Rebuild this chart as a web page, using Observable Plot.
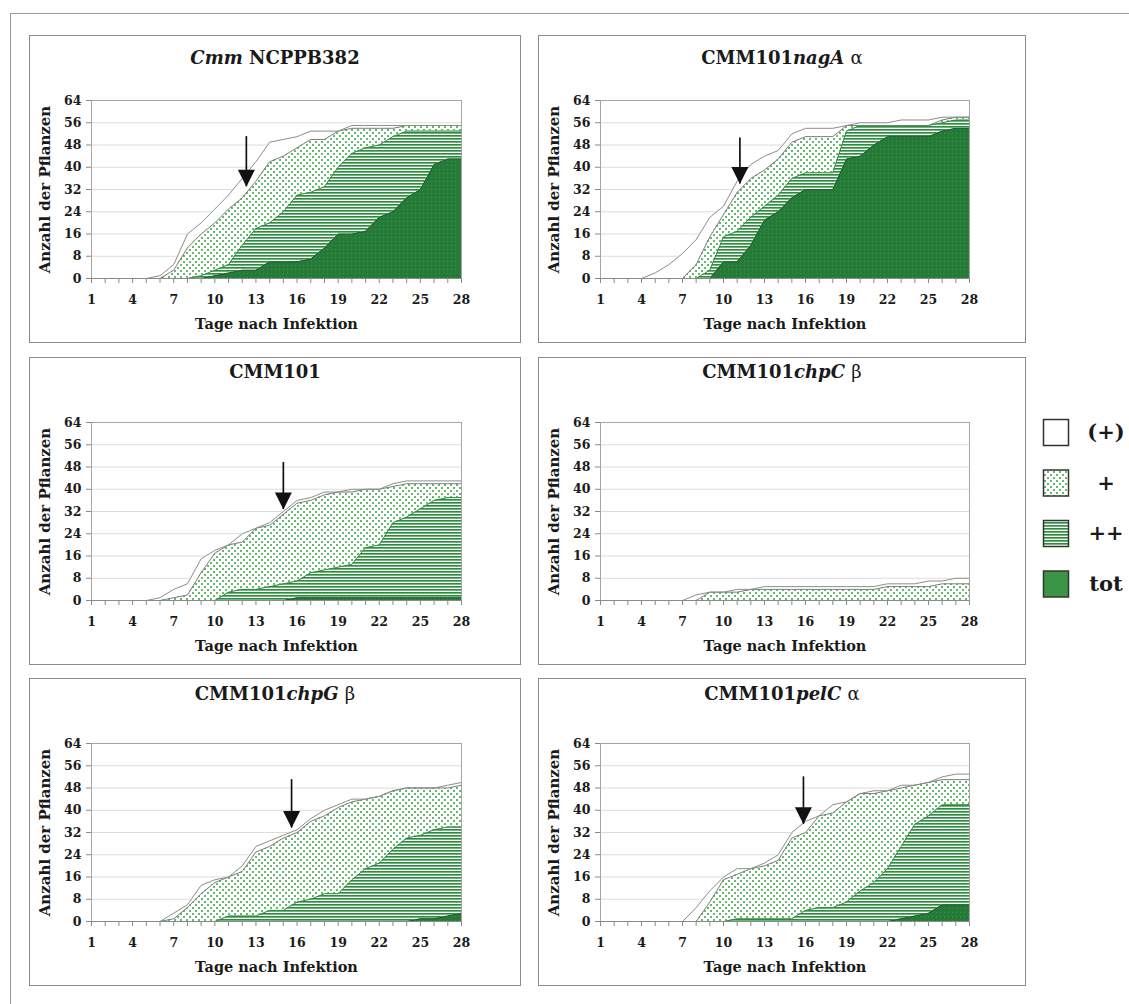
<!DOCTYPE html>
<html><head><meta charset="utf-8">
<script src="https://cdn.jsdelivr.net/npm/d3@7"></script>
<script src="https://cdn.jsdelivr.net/npm/@observablehq/plot@0.6"></script>
<style>
body{margin:0;background:#fff;width:1129px;height:1004px;overflow:hidden;position:relative;font-family:"DejaVu Serif",serif;color:#1a1a1a}
#frame{position:absolute;left:10px;top:13px;width:1300px;height:1200px;border-left:1px solid #9a9a9a;border-top:1px solid #9a9a9a}
.panel{position:absolute;border:1px solid #8a8a8a;background:#fff;box-sizing:border-box}
.panel svg{position:absolute;left:0;top:0}
.ttl{position:absolute;left:0;right:0;text-align:center;font-weight:bold;font-size:18px;line-height:22px;z-index:2}
.ttl .g{font-weight:normal}
#legend{position:absolute;left:1035px;top:405px}
</style></head>
<body>
<svg width="0" height="0" style="position:absolute">
 <defs>
  <pattern id="pDots" width="6" height="6" patternUnits="userSpaceOnUse">
   <rect width="6" height="6" fill="#fff"/>
   <rect x="0" y="0" width="2" height="2" fill="#63ba6c"/>
   <rect x="3" y="3" width="2" height="2" fill="#63ba6c"/>
  </pattern>
  <pattern id="pStripes" width="8" height="3" patternUnits="userSpaceOnUse">
   <rect width="8" height="3" fill="#fff"/>
   <rect y="0" width="8" height="1" fill="#2f8c3e"/>
   <rect y="1" width="8" height="1" fill="#6fb47b"/>
  </pattern>
  <pattern id="pTot" width="4" height="4" patternUnits="userSpaceOnUse">
   <rect width="4" height="4" fill="#247a36"/>
   <rect x="1" y="1" width="1" height="1" fill="#3a9149"/>
  </pattern>
 </defs>
</svg>
<div id="frame"></div>
<div id="root"></div>
<svg id="legend" width="94" height="200"></svg>
<script>
// ---------- data ----------
const days = d3.range(1, 29);
const xTickLabels = [1, 4, 7, 10, 13, 16, 19, 22, 25, 28];
const yTicks = [0, 8, 16, 24, 32, 40, 48, 56, 64];
const levels = ["(+)", "+", "++", "tot"];

const titles = [
  "<i>Cmm</i> NCPPB382",
  "CMM101<i>nagA</i> <span class='g'>α</span>",
  "CMM101",
  "CMM101<i>chpC</i> <span class='g'>β</span>",
  "CMM101<i>chpG</i> <span class='g'>β</span>",
  "CMM101<i>pelC</i> <span class='g'>α</span>"
];

// cumulative plant counts per day (1..28): dead (tot), at least "++", at least "+", all symptomatic "(+)"
const ncppb_tot = [0,0,0,0,0,0,0,0,0,1,2,3,3,6,6,6,7,11,16,16,17,22,24,29,32,41,43,43];
const ncppb_pp  = [0,0,0,0,0,0,0,0,1,3,5,12,18,20,24,30,31,33,40,45,47,48,51,53,53,53,53,53];
const ncppb_p   = [0,0,0,0,0,0,3,11,16,20,25,29,35,42,44,47,50,50,53,54,54,54,54,55,55,55,55,55];
const ncppb_all = [0,0,0,0,0,1,5,16,20,25,30,36,42,49,50,51,53,53,53,55,55,55,55,55,55,55,55,55];

const nagA_tot = [0,0,0,0,0,0,0,0,0,6,6,12,21,24,29,32,32,32,43,44,48,51,51,51,51,53,54,54];
const nagA_pp  = [0,0,0,0,0,0,0,0,3,15,17,22,26,30,36,38,38,38,53,55,55,55,55,55,55,56,57,57];
const nagA_p   = [0,0,0,0,0,0,0,5,15,23,31,36,39,43,49,51,51,51,55,55,55,55,55,55,55,57,58,58];
const nagA_all = [0,0,0,0,2,5,9,14,22,26,35,41,44,46,52,54,54,54,55,56,56,56,57,57,57,58,58,58];

const cmm101_tot = [0,0,0,0,0,0,0,0,0,0,0,0,0,0,0,1,1,1,1,1,1,1,1,1,1,1,1,1];
const cmm101_pp  = [0,0,0,0,0,0,0,0,0,0,3,4,4,5,6,7,10,11,12,13,19,20,28,30,33,36,37,37];
const cmm101_p   = [0,0,0,0,0,0,1,2,10,17,20,21,26,27,31,35,36,38,39,39,40,40,41,42,42,42,42,42];
const cmm101_all = [0,0,0,0,0,1,4,6,15,18,20,24,26,28,32,36,37,39,39,40,40,40,42,43,43,43,43,43];

const chpC_tot = [0,0,0,0,0,0,0,0,0,0,0,0,0,0,0,0,0,0,0,0,0,0,0,0,0,0,0,0];
const chpC_pp  = [0,0,0,0,0,0,0,0,0,0,0,0,0,0,0,0,0,0,0,0,0,0,0,0,0,0,0,0];
const chpC_p   = [0,0,0,0,0,0,0,0,3,3,3,4,4,4,4,4,4,4,4,4,4,5,5,5,5,6,6,6];
const chpC_all = [0,0,0,0,0,0,0,2,3,3,4,4,5,5,5,5,5,5,5,5,5,6,6,6,7,7,8,8];

const chpG_tot = [0,0,0,0,0,0,0,0,0,0,0,0,0,0,0,0,0,0,0,0,0,0,0,0,1,1,2,3];
const chpG_pp  = [0,0,0,0,0,0,0,0,0,0,2,2,2,4,4,7,8,10,10,15,19,21,26,30,31,33,34,34];
const chpG_p   = [0,0,0,0,0,0,1,5,10,14,16,18,25,27,30,32,36,38,41,43,44,45,47,48,48,48,48,49];
const chpG_all = [0,0,0,0,0,0,3,6,13,15,16,20,27,29,31,33,37,40,42,44,44,45,47,48,48,48,49,50];

const pelC_tot = [0,0,0,0,0,0,0,0,0,0,0,0,0,0,0,0,0,0,0,0,0,0,1,2,3,6,6,6];
const pelC_pp  = [0,0,0,0,0,0,0,0,0,0,1,1,1,1,1,4,5,5,7,11,14,19,27,35,38,42,42,42];
const pelC_p   = [0,0,0,0,0,0,0,0,7,15,17,19,20,22,30,32,38,39,43,46,46,47,48,49,50,51,51,51];
const pelC_all = [0,0,0,0,0,0,0,5,11,16,19,19,21,24,32,36,38,42,43,46,47,47,49,49,50,52,53,53];

// arrow annotations (day, tip value, top value); null = no arrow
const arrowDays = [12.3, 11.2, 15.0, null, 15.6, 15.85];
const arrowTips = [33, 34, 32.7, null, 33.6, 35];
const arrowTops = [51, 50.5, 49.6, null, 51, 52];

const TOT = [ncppb_tot, nagA_tot, cmm101_tot, chpC_tot, chpG_tot, pelC_tot];
const PP  = [ncppb_pp,  nagA_pp,  cmm101_pp,  chpC_pp,  chpG_pp,  pelC_pp];
const P   = [ncppb_p,   nagA_p,   cmm101_p,   chpC_p,   chpG_p,   pelC_p];
const ALL = [ncppb_all, nagA_all, cmm101_all, chpC_all, chpG_all, pelC_all];

// ---------- drawing ----------
const FONT = "'DejaVu Serif', serif";
const colLeft = [29, 538], colW = [492, 488], rowTop = [35, 357, 678], boxH = 308;
const titleTop = [11, 3, 4];
const arrowHead = {draw(ctx) { ctx.moveTo(-8.5, -17); ctx.lineTo(8.5, -17); ctx.lineTo(0, 0); ctx.closePath(); }};
const root = document.getElementById("root");

for (let pi = 0; pi < 6; ++pi) {
  const col = pi % 2, row = Math.floor(pi / 2);
  const R = days.map((d, i) => ({day: d, tot: TOT[pi][i], pp: PP[pi][i], p: P[pi][i], all: ALL[pi][i]}));
  const A = arrowDays[pi] == null ? [] : [{day: arrowDays[pi], tip: arrowTips[pi], top: arrowTops[pi]}];
  const box = document.createElement("div");
  box.className = "panel";
  Object.assign(box.style, {left: colLeft[col] + "px", top: rowTop[row] + "px", width: colW[col] + "px", height: boxH + "px"});
  const t = document.createElement("div");
  t.className = "ttl";
  t.style.top = titleTop[row] + "px";
  t.innerHTML = titles[pi];
  box.appendChild(t);
  const chart = Plot.plot({
    width: colW[col] - 2, height: boxH - 2,
    marginLeft: 61, marginRight: col ? 56 : 59, marginTop: 64, marginBottom: 64,
    style: {fontFamily: FONT, fontWeight: "bold", fontSize: "12.5px", color: "#1a1a1a", background: "transparent", overflow: "visible"},
    x: {domain: [1, 28], label: null},
    y: {domain: [0, 64], label: null},
    marks: [
      Plot.gridY(yTicks, {stroke: "#dcdcdc", strokeOpacity: 1}),
      Plot.areaY(R, {x: "day", y1: 0, y2: "tot", fill: "url(#pTot)"}),
      Plot.areaY(R, {x: "day", y1: "tot", y2: "pp", fill: "url(#pStripes)"}),
      Plot.areaY(R, {x: "day", y1: "pp", y2: "p", fill: "url(#pDots)"}),
      Plot.areaY(R, {x: "day", y1: "p", y2: "all", fill: "#fff"}),
      Plot.lineY(R, {x: "day", y: "tot", stroke: "#1d5f2b", strokeWidth: 1}),
      Plot.lineY(R, {x: "day", y: "pp", stroke: "#2f8c3e", strokeWidth: 1}),
      Plot.lineY(R, {x: "day", y: "p", stroke: "#7d7d7d", strokeWidth: 1}),
      Plot.lineY(R, {x: "day", y: "all", stroke: "#8c8c8c", strokeWidth: 1}),
      Plot.frame({stroke: "#a5a5a5"}),
      Plot.ruleY([0], {stroke: "#8a8a8a"}),
      Plot.axisY({ticks: yTicks, tickSize: 5, tickPadding: 5, stroke: "#8a8a8a", fill: "#1a1a1a", label: null, fontSize: 12.5}),
      Plot.axisX({ticks: days, tickSize: 5, tickFormat: () => "", stroke: "#8a8a8a", label: null}),
      Plot.axisX({ticks: xTickLabels, tickSize: 0, tickPadding: 17, fill: "#1a1a1a", label: null, fontSize: 12.5}),
      Plot.text(["Tage nach Infektion"], {frameAnchor: "bottom", dy: 50, fontSize: 14.5, fontWeight: "bold", fill: "#1a1a1a"}),
      Plot.text(["Anzahl der Pflanzen"], {frameAnchor: "left", textAnchor: "middle", rotate: -90, dx: -46, fontSize: 15, fontWeight: "bold", fill: "#1a1a1a"}),
      Plot.ruleX(A, {x: "day", y1: "tip", y2: "top", stroke: "#111", strokeWidth: 1.7}),
      Plot.dot(A, {x: "day", y: "tip", symbol: arrowHead, fill: "#111", stroke: "none", r: 5})
    ]
  });
  box.appendChild(chart);
  root.appendChild(box);
}

// ---------- legend ----------
const lg = d3.select("#legend");
const sw = ["#fff", "url(#pDots)", "url(#pStripes)", "#3a9646"];
levels.forEach((name, i) => {
  const cy = 27 + i * 50.5;
  lg.append("rect").attr("x", 8.5).attr("y", cy - 12.5).attr("width", 25).attr("height", 26)
    .attr("fill", sw[i]).attr("stroke", "#333").attr("stroke-width", 1.5);
  lg.append("text").attr("x", 71).attr("y", cy).attr("dy", "0.35em").attr("text-anchor", "middle")
    .attr("font-family", FONT).attr("font-weight", "bold").attr("font-size", 21).attr("fill", "#1a1a1a").text(name);
});
</script>
</body></html>
